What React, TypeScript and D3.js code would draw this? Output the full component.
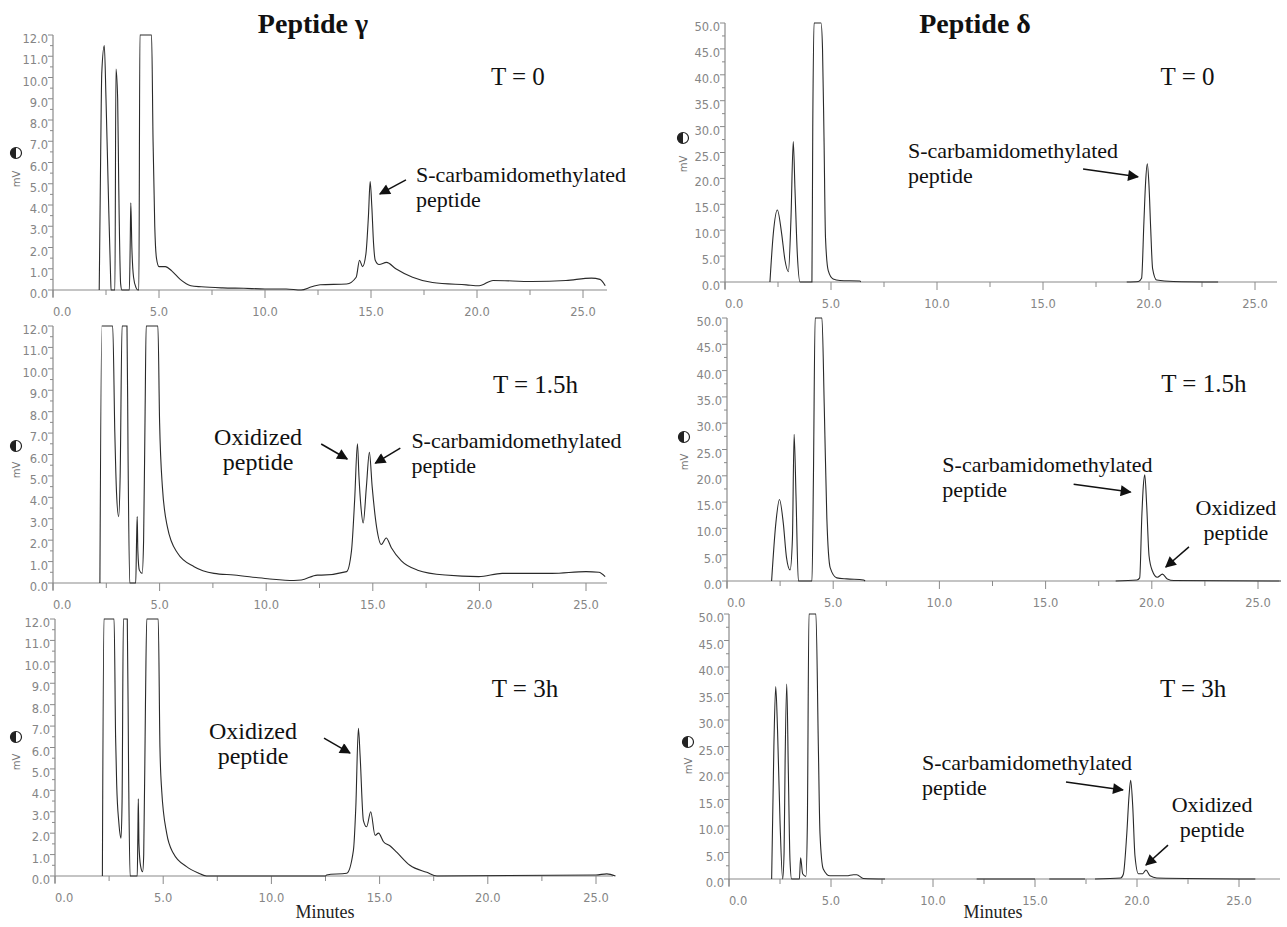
import React from "react";
import * as d3 from "d3";

const SERIF = "'Liberation Serif', 'Times New Roman', serif";
const SANS = "'DejaVu Sans', Verdana, sans-serif";

// retention time (min), signal (mV)
const gammaT0 = [
  [2.18, 0], [2.25, 6.5], [2.3, 10.2], [2.42, 11.5], [2.5, 9.0], [2.6, 5], [2.72, 0.5], [2.74, 0],
  [2.92, 0], [2.97, 10.4], [3.05, 9.0], [3.1, 5], [3.19, 0.3], [3.25, 0],
  [3.6, 0], [3.64, 2], [3.67, 4.1], [3.72, 2], [3.8, 0.6], [3.92, 0.1], [4.0, 0],
  [4.05, 0], [4.1, 12], [4.65, 12], [4.72, 7], [4.8, 3], [4.88, 1.5], [5.0, 1.1], [5.3, 1.1],
  [5.6, 0.9], [6.0, 0.5], [6.5, 0.2], [7.0, 0.15], [8.0, 0.1], [9.0, 0.08], [10.0, 0.05],
  [11.0, 0.05], [11.7, 0.0], [12.2, 0.15], [12.6, 0.25], [13.85, 0.28], [14.3, 0.6], [14.46, 1.4],
  [14.6, 1.1], [14.76, 1.7], [14.88, 3.5], [14.96, 5.1], [15.04, 3.9], [15.12, 2.2], [15.2, 1.4],
  [15.38, 1.2], [15.73, 1.3], [16.17, 1.0], [16.96, 0.6], [17.9, 0.35], [19.5, 0.24], [20.1, 0.2],
  [20.76, 0.45], [22.6, 0.4], [24.2, 0.45], [25.4, 0.56], [25.8, 0.5], [26.05, 0.2],
];

const gammaT15 = [
  [2.2, 0], [2.29, 12], [2.8, 12], [2.9, 7], [2.98, 4.2], [3.08, 3.1], [3.15, 5], [3.24, 12],
  [3.47, 12], [3.52, 6], [3.6, 0], [3.88, 0], [3.92, 2], [3.95, 3.1], [3.98, 1.5], [4.05, 0.6],
  [4.18, 0.45], [4.25, 2], [4.32, 8], [4.37, 12], [4.92, 12], [5.0, 7.5], [5.13, 4.5], [5.37, 2.6],
  [5.84, 1.4], [6.62, 0.76], [7.55, 0.45], [8.49, 0.37], [10.07, 0.2], [11.3, 0.12], [11.65, 0.14],
  [12.4, 0.37], [12.6, 0.37], [13.77, 0.53], [14.0, 1.5], [14.15, 3.9], [14.28, 6.5], [14.35, 5.0],
  [14.44, 3.6], [14.55, 2.8], [14.7, 4.5], [14.84, 6.1], [14.97, 4.5], [15.18, 2.6], [15.4, 1.8],
  [15.63, 2.1], [15.87, 1.65], [16.34, 1.03], [17.1, 0.6], [18.4, 0.37], [19.97, 0.3], [21.07, 0.45],
  [23.4, 0.45], [25.0, 0.53], [25.6, 0.5], [25.9, 0.3],
];

const gammaT3 = [
  [2.19, 0], [2.26, 12], [2.73, 12], [2.8, 6.5], [2.85, 4.3], [2.95, 2.5], [3.05, 1.76], [3.1, 3.5],
  [3.16, 12], [3.34, 12], [3.4, 5], [3.47, 0], [3.8, 0], [3.83, 2], [3.85, 3.6], [3.88, 1.5],
  [3.95, 0.5], [4.05, 0.2], [4.1, 1], [4.18, 8], [4.24, 12], [4.77, 12], [4.85, 6], [4.93, 4.0],
  [5.16, 2.0], [5.47, 1.06], [6.08, 0.44], [6.6, 0.15], [7.0, 0.0], [12.5, 0.0], [12.55, 0.05],
  [13.48, 0.13], [13.79, 1.2], [13.9, 3.2], [14.02, 6.9], [14.1, 5.6], [14.25, 2.6], [14.4, 2.3],
  [14.59, 3.0], [14.79, 1.9], [14.95, 2.0], [15.18, 1.6], [15.49, 1.4], [15.8, 1.1], [16.4, 0.5],
  [17.18, 0.17], [17.65, 0.0], [25.0, 0.05], [25.5, 0.1], [25.9, 0],
];

const deltaT0 = [
  [
    [2.12, 0], [2.28, 9.4], [2.47, 13.9], [2.67, 9.4], [2.83, 4.2], [2.99, 2.0], [3.11, 12],
    [3.22, 27.1], [3.3, 18], [3.41, 5.5], [3.54, 0], [4.1, 0], [4.14, 30], [4.2, 50], [4.53, 50],
    [4.6, 45], [4.67, 27.9], [4.74, 8.6], [4.87, 2.2], [5.1, 0.6], [5.42, 0.3], [6.36, 0.2], [6.4, 0],
  ],
  [
    [18.95, 0], [19.5, 0.1], [19.65, 0.7], [19.76, 11.6], [19.84, 19.3], [19.92, 22.8], [20.0, 18.6],
    [20.08, 10.3], [20.17, 2.6], [20.36, 0.4], [21.15, 0.1], [23.26, 0],
  ],
];

const deltaT15 = [
  [
    [2.1, 0], [2.3, 11], [2.47, 15.5], [2.65, 11], [2.8, 4.5], [2.97, 2.1], [3.08, 8], [3.16, 27.9],
    [3.25, 16], [3.36, 0], [4.0, 0], [4.07, 20], [4.15, 50], [4.47, 50], [4.58, 33], [4.7, 12],
    [4.86, 2.5], [5.17, 0.6], [5.64, 0.4], [6.43, 0.2], [6.5, 0],
  ],
  [
    [18.3, 0], [19.3, 0.2], [19.43, 0.6], [19.53, 12.3], [19.6, 18], [19.67, 20.2], [19.76, 14.3],
    [19.87, 4.8], [20.02, 2.0], [20.26, 0.7], [20.5, 1.3], [20.73, 0.4], [21.04, 0.1], [26.08, 0],
  ],
];

const deltaT3 = [
  [
    [2.09, 0], [2.2, 25], [2.29, 36.3], [2.38, 28], [2.5, 11], [2.63, 0], [2.7, 5], [2.75, 22],
    [2.83, 36.8], [2.91, 20], [2.99, 3.5], [3.07, 0], [3.45, 0], [3.51, 4.0], [3.61, 1.0], [3.77, 0.5],
    [3.84, 10], [3.92, 50], [4.26, 50], [4.38, 25], [4.46, 8.6], [4.62, 1.9], [4.95, 0.6], [5.77, 0.6],
    [6.1, 0.8], [6.26, 0.8], [6.59, 0.1], [7.65, 0],
  ],
  [[12.14, 0], [15.0, 0]],
  [[15.7, 0], [17.45, 0]],
  [
    [17.94, 0], [19.2, 0.2], [19.33, 0.9], [19.5, 8.6], [19.61, 15.7], [19.69, 18.6], [19.79, 13.8],
    [19.9, 4.4], [20.07, 1.0], [20.28, 1.0], [20.44, 1.7], [20.64, 0.6], [20.97, 0.2], [25.8, 0],
  ],
];

const xTicks = [0, 5, 10, 15, 20, 25];
const SCM = ["S-carbamidomethylated", "peptide"];
const OX = ["Oxidized", "peptide"];

// annotations in data units: text anchor point, arrow from -> to
const annotGT0 = [
  { lines: ["T = 0"], t: 21.93, v: 9.65, size: 25, anchor: "middle" },
  { lines: SCM, t: 17.12, v: 5.08, size: 22, anchor: "start", arrow: [[16.65, 5.18], [15.42, 4.52]] },
];
const annotGT15 = [
  { lines: ["T = 1.5h"], t: 22.63, v: 8.87, size: 25, anchor: "middle" },
  { lines: OX, t: 9.62, v: 6.44, size: 24, anchor: "middle", arrow: [[12.58, 6.49], [13.8, 5.79]] },
  { lines: SCM, t: 16.81, v: 6.3, size: 22, anchor: "start", arrow: [[16.29, 6.3], [15.12, 5.6]] },
];
const annotGT3 = [
  { lines: ["T = 3h"], t: 21.72, v: 8.36, size: 25, anchor: "middle" },
  { lines: OX, t: 9.15, v: 6.4, size: 24, anchor: "middle", arrow: [[12.43, 6.44], [13.63, 5.74]] },
];
const annotDT0 = [
  { lines: ["T = 0"], t: 21.82, v: 38.0, size: 25, anchor: "middle" },
  { lines: SCM, t: 8.63, v: 23.9, size: 22, anchor: "start", arrow: [[16.89, 21.8], [19.48, 20.3]] },
];
const annotDT15 = [
  { lines: ["T = 1.5h"], t: 22.45, v: 35.9, size: 25, anchor: "middle" },
  { lines: SCM, t: 10.14, v: 20.7, size: 22, anchor: "start", arrow: [[16.32, 18.4], [19.0, 16.9]] },
  { lines: OX, t: 23.96, v: 12.5, size: 22, anchor: "middle", arrow: [[21.75, 6.5], [20.66, 2.66]] },
];
const annotDT3 = [
  { lines: ["T = 3h"], t: 22.75, v: 34.3, size: 25, anchor: "middle" },
  { lines: SCM, t: 9.46, v: 20.6, size: 22, anchor: "start", arrow: [[16.52, 18.3], [19.31, 16.8]] },
  { lines: OX, t: 23.68, v: 12.6, size: 22, anchor: "middle", arrow: [[21.52, 6.4], [20.44, 2.64]] },
];

// panel geometry (pixels)
const panels = [
  { key: "g0", x0: 53, x25: 583, xEnd: 607, yTop: 35, yBot: 290, yMax: 12, yStep: 1, segs: [gammaT0], annots: annotGT0, mv: [16, 153, 179] },
  { key: "g1", x0: 53, x25: 586, xEnd: 607, yTop: 326, yBot: 583, yMax: 12, yStep: 1, segs: [gammaT15], annots: annotGT15, mv: [16, 446, 470] },
  { key: "g2", x0: 55, x25: 596, xEnd: 613, yTop: 619, yBot: 876, yMax: 12, yStep: 1, segs: [gammaT3], annots: annotGT3, mv: [16, 737, 762] },
  { key: "d0", x0: 725, x25: 1255, xEnd: 1277, yTop: 23, yBot: 282, yMax: 50, yStep: 5, segs: deltaT0, annots: annotDT0, mv: [683, 138, 164] },
  { key: "d1", x0: 727, x25: 1258, xEnd: 1279, yTop: 318, yBot: 581, yMax: 50, yStep: 5, segs: deltaT15, annots: annotDT15, mv: [684, 437, 462] },
  { key: "d2", x0: 729, x25: 1239, xEnd: 1280, yTop: 614, yBot: 879, yMax: 50, yStep: 5, segs: deltaT3, annots: annotDT3, mv: [688, 742, 766] },
];

const fmt = d3.format(".1f");

function Panel({ p }) {
  const x = d3.scaleLinear().domain([0, 25]).range([p.x0, p.x25]);
  const y = d3.scaleLinear().domain([0, p.yMax]).range([p.yBot, p.yTop]);
  const line = d3
    .line()
    .x((d) => x(d[0]))
    .y((d) => y(Math.min(d[1], p.yMax)))
    .curve(d3.curveMonotoneX);

  const yMajor = d3.range(0, p.yMax + 1e-9, p.yStep);
  const yMinor = d3.range(p.yStep / 2, p.yMax, p.yStep);
  const tEnd = x.invert(p.xEnd);
  const xMinor = d3.range(2.5, tEnd, 5);
  const axisColor = "#8a8a8a";

  return (
    <g>
      {/* axes */}
      <line x1={p.x0} x2={p.xEnd} y1={p.yBot} y2={p.yBot} stroke={axisColor} strokeWidth={1.2} />
      <line x1={p.x0} x2={p.x0} y1={p.yBot + 7} y2={p.yTop} stroke={axisColor} strokeWidth={1.2} />
      {yMajor.map((v) => (
        <g key={"ym" + v}>
          <line x1={p.x0 - 5} x2={p.x0} y1={y(v)} y2={y(v)} stroke={axisColor} />
          <text x={p.x0 - 5} y={y(v) + 8} textAnchor="end" fontFamily={SANS} fontSize={11.5} fill="#858585">
            {fmt(v)}
          </text>
        </g>
      ))}
      {yMinor.map((v) => (
        <line key={"yn" + v} x1={p.x0 - 3} x2={p.x0} y1={y(v)} y2={y(v)} stroke={axisColor} />
      ))}
      {xTicks.map((t) => (
        <g key={"xm" + t}>
          <line x1={x(t)} x2={x(t)} y1={p.yBot} y2={p.yBot + 8} stroke={axisColor} />
          <text
            x={x(t)}
            y={p.yBot + 26}
            textAnchor={t === 0 ? "start" : "middle"}
            fontFamily={SANS}
            fontSize={11.5}
            fill="#858585"
          >
            {fmt(t)}
          </text>
        </g>
      ))}
      {xMinor.map((t) => (
        <line key={"xn" + t} x1={x(t)} x2={x(t)} y1={p.yBot} y2={p.yBot + 5} stroke={axisColor} />
      ))}

      {/* mV unit label with detector icon */}
      <g>
        <circle cx={p.mv[0]} cy={p.mv[1]} r={5.5} fill="#fff" stroke="#222" strokeWidth={1.2} />
        <path
          d={`M${p.mv[0] - 5.5},${p.mv[1]} A5.5,5.5 0 0,0 ${p.mv[0] + 5.5},${p.mv[1]} Z`}
          fill="#222"
          transform={`rotate(90 ${p.mv[0]} ${p.mv[1]})`}
        />
        <text
          transform={`translate(${p.mv[0] + 4},${p.mv[2]}) rotate(-90)`}
          textAnchor="middle"
          fontFamily={SANS}
          fontSize={10}
          fill="#777"
        >
          mV
        </text>
      </g>

      {/* trace */}
      {p.segs.map((s, i) => (
        <path key={i} d={line(s)} fill="none" stroke="#2a2a2a" strokeWidth={1.1} />
      ))}

      {/* annotations */}
      {p.annots.map((a, i) => (
        <g key={"a" + i}>
          {a.lines.map((ln, j) => (
            <text
              key={j}
              x={x(a.t)}
              y={y(a.v) + j * 25}
              textAnchor={a.anchor}
              fontFamily={SERIF}
              fontSize={a.size}
              fill="#111"
            >
              {ln}
            </text>
          ))}
          {a.arrow && (
            <line
              x1={x(a.arrow[0][0])}
              y1={y(a.arrow[0][1])}
              x2={x(a.arrow[1][0])}
              y2={y(a.arrow[1][1])}
              stroke="#111"
              strokeWidth={1.5}
              markerEnd="url(#arrowHead)"
            />
          )}
        </g>
      ))}
    </g>
  );
}

export default function App() {
  return (
    <svg
      width={1287}
      height={927}
      style={{ position: "absolute", left: 0, top: 0, background: "#fff" }}
    >
      <defs>
        <marker
          id="arrowHead"
          viewBox="0 0 10 10"
          refX={9}
          refY={5}
          markerWidth={13}
          markerHeight={11}
          markerUnits="userSpaceOnUse"
          orient="auto"
        >
          <path d="M0,0 L10,5 L0,10 z" fill="#111" />
        </marker>
      </defs>
      <rect x={0} y={0} width={1287} height={927} fill="#fff" />
      <text x={313} y={33} textAnchor="middle" fontFamily={SERIF} fontWeight="bold" fontSize={28} fill="#111">
        Peptide γ
      </text>
      <text x={975} y={33} textAnchor="middle" fontFamily={SERIF} fontWeight="bold" fontSize={28} fill="#111">
        Peptide δ
      </text>
      {panels.map((p) => (
        <Panel key={p.key} p={p} />
      ))}
      <text x={325} y={918} textAnchor="middle" fontFamily={SERIF} fontSize={18} fill="#222">
        Minutes
      </text>
      <text x={993} y={918} textAnchor="middle" fontFamily={SERIF} fontSize={18} fill="#222">
        Minutes
      </text>
    </svg>
  );
}
